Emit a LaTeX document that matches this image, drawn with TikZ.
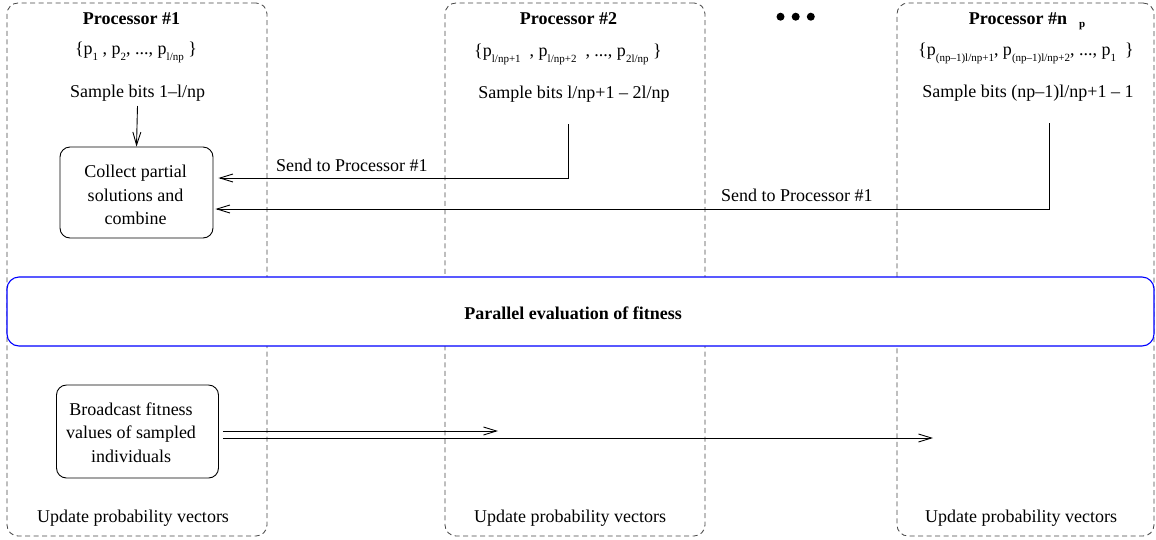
\documentclass[tikz,border=0pt]{standalone}
\usepackage{fontspec}
\setmainfont{Liberation Serif}
\usetikzlibrary{arrows.meta}

% lowered subscript as set in the processor index sets
\newcommand{\lowsub}[1]{\raisebox{-6pt}{\fontsize{11}{11}\selectfont #1}}

\begin{document}
\begin{tikzpicture}[x=1pt,y=-1pt,
  every node/.style={font=\fontsize{18}{23.3}\selectfont, inner sep=0pt},
  title/.style={font=\fontsize{18}{23}\selectfont\bfseries, anchor=base},
  plain/.style={anchor=base},
  procbox/.style={draw=black!72, dash pattern=on 5pt off 3.5pt, rounded corners=11pt, line width=0.85pt},
  stepbox/.style={draw, rounded corners=10pt, line width=0.9pt},
  evalbox/.style={draw=blue, fill=white, rounded corners=12pt, line width=1.1pt},
  msg/.style={line width=0.9pt, -{Straight Barb[length=13pt,width=8pt]}},
  dot/.style={fill=black, circle, minimum size=8pt, inner sep=0pt},
]
\useasboundingbox (0,0) rectangle (1156,539);

% processor columns
\node[procbox, minimum width=260pt, minimum height=533pt] (proc1) at (137,269.5) {};
\node[procbox, minimum width=260pt, minimum height=533pt] (proc2) at (575,269.5) {};
\node[procbox, minimum width=257pt, minimum height=533pt] (proc3) at (1025.5,269.5) {};

% column headers
\node[title] (t1) at (131.5,24) {Processor \#1};
\node[title] (t2) at (568.5,24) {Processor \#2};
\node[title] (t3) at (1027,24) {Processor \#n\hspace{12pt}\raisebox{-3pt}{\fontsize{11}{11}\selectfont p}};

\node[dot] (d1) at (780.5,16.7) {};
\node[dot] (d2) at (795.7,16.7) {};
\node[dot] (d3) at (810.8,16.7) {};

% index sets
\node[plain] (set1) at (136,54) {\{p\lowsub{1} , p\lowsub{2}, ..., p\lowsub{l/np} \}};
\node[plain] (set2) at (568,56) {\{p\lowsub{l/np+1}\ \ , p\lowsub{l/np+2}\ \ , ..., p\lowsub{2l/np}\ \}};
\node[plain] (set3) at (1026,55) {\{p\lowsub{(np\textendash1)l/np+1}, p\lowsub{(np\textendash1)l/np+2}, ..., p\lowsub{1}\ \ \}};

% sampling
\node[plain] (sample1) at (137.5,97) {Sample bits 1\textendash l/np};
\node[plain] (sample2) at (574,98) {Sample bits l/np+1 \textendash\ 2l/np};
\node[plain] (sample3) at (1028,97) {Sample bits (np\textendash1)l/np+1 \textendash\ 1};

% collecting the partial solutions
\node[stepbox, minimum width=153pt, minimum height=91pt] (collect) at (136.5,192.5) {};
\node[align=center] (collecttext) at (135.5,195) {Collect partial\\solutions and\\combine};

\draw[msg] ([yshift=-9pt]sample1.base) -- (collect.north);
\draw[msg] ([xshift=-6pt,yshift=-26pt]sample2.base) |- ([xshift=5pt,yshift=14.5pt]collect.east);
\draw[msg] ([xshift=21pt,yshift=-26pt]sample3.base) |- ([xshift=2pt,yshift=-16.5pt]collect.east);
\node[anchor=base west] (send1) at (276,171) {Send to Processor \#1};
\node[anchor=base west] (send2) at (721,201) {Send to Processor \#1};

% fitness evaluation across all processors
\node[evalbox, minimum width=1147pt, minimum height=69pt] (eval) at (580.5,311.5) {};
\node[title] (evaltext) at (573,319) {Parallel evaluation of fitness};

% broadcasting the fitness values
\node[stepbox, minimum width=162pt, minimum height=93pt] (bcast) at (137.5,431.5) {};
\node[align=center] (bcasttext) at (131,432.5) {Broadcast fitness\\values of sampled\\individuals};
\coordinate (in2) at (498,431);
\coordinate (in3) at (933,438);
\draw[msg] ([xshift=4pt,yshift=0.5pt]bcast.east) -- (in2);
\draw[msg] ([xshift=4pt,yshift=-6.5pt]bcast.east) -- (in3);

% probability vector updates
\node[plain] (upd1) at (133,522) {Update probability vectors};
\node[plain] (upd2) at (570,522) {Update probability vectors};
\node[plain] (upd3) at (1021,522) {Update probability vectors};
\end{tikzpicture}
\end{document}
